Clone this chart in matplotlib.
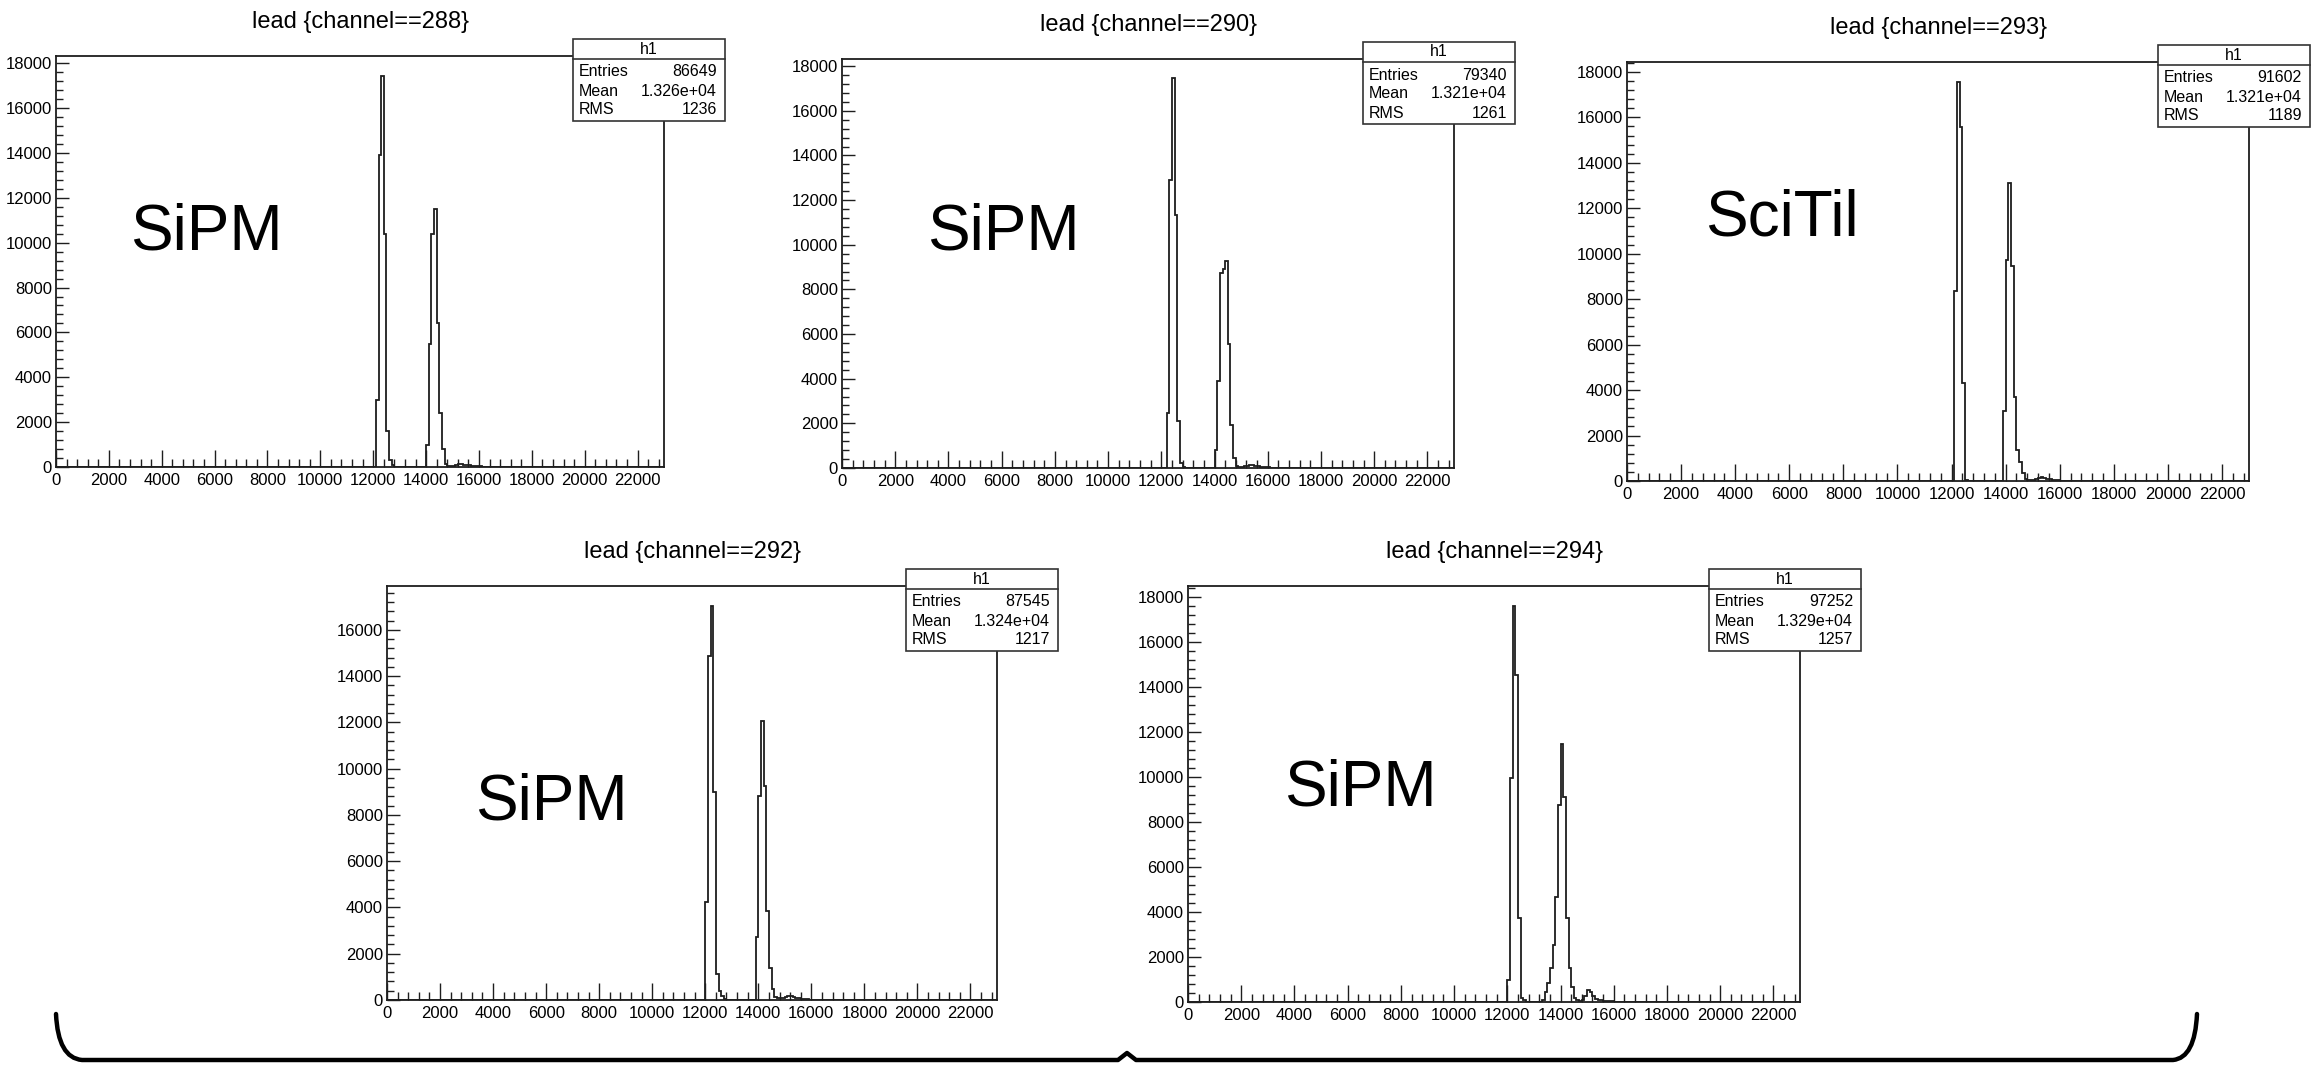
import numpy as np
import matplotlib
matplotlib.use('Agg')
import matplotlib.pyplot as plt
from matplotlib.ticker import MultipleLocator, FixedLocator
from matplotlib.patches import Rectangle, PathPatch
from matplotlib.path import Path
from matplotlib.lines import Line2D

plt.rcParams['font.family'] = ['Liberation Sans', 'DejaVu Sans']

# ---------------- data ----------------
channels = [288, 290, 293, 292, 294]
labels = ['SiPM', 'SiPM', 'SciTil', 'SiPM', 'SiPM']
entries = [86649, 79340, 91602, 87545, 97252]
means = ['1.326e+04', '1.321e+04', '1.321e+04', '1.324e+04', '1.329e+04']
rms_vals = [1236, 1261, 1189, 1217, 1257]

bin_width = 100
x_max = 23000
start_edges = [12100, 12200, 12100, 12000, 12000]

counts_288 = [3000, 13900, 17450, 10400, 1600, 300, 70,
              0, 0, 0, 0, 0, 0, 0, 0, 0, 0, 0, 0,
              1000, 5500, 10400, 11500, 6400, 2400, 800, 150,
              60, 50, 60, 90, 120, 120, 110, 100, 80, 60, 50, 40, 30, 20, 20, 10, 10]
counts_290 = [2460, 12890, 17450, 11350, 2120, 210, 60,
              0, 0, 0, 0, 0, 0, 0, 0, 0, 0, 0,
              800, 3880, 8740, 8900, 9260, 5570, 1930, 450, 100,
              60, 60, 70, 100, 130, 130, 110, 80, 60, 50, 40, 30, 20, 10]
counts_293 = [8380, 17560, 15580, 4330, 60,
              0, 0, 0, 0, 0, 0, 0, 0, 0, 0, 0, 0, 0,
              3070, 9730, 13110, 9450, 3700, 1360, 850, 340, 70,
              60, 50, 60, 80, 130, 160, 150, 110, 80, 60, 50, 40, 20, 10]
counts_292 = [4220, 14880, 17040, 8970, 1120, 400, 190, 40,
              0, 0, 0, 0, 0, 0, 0, 0, 0, 0, 0,
              2710, 8830, 12040, 9260, 3860, 1380, 475, 115,
              80, 70, 90, 150, 190, 170, 120, 90, 70, 50, 40, 30, 20, 10]
counts_294 = [990, 9970, 17600, 14520, 3740, 180, 70,
              0, 0, 0, 0, 0, 0,
              70, 430, 850, 1510, 2550, 4670, 8730, 11450, 9120, 3740, 1510, 670, 180,
              80, 60, 100, 250, 550, 450, 280, 150, 100, 80, 60, 50, 40, 30, 20, 20, 10, 10]
all_counts = [counts_288, counts_290, counts_293, counts_292, counts_294]

x_major = list(range(0, 22001, 2000))

# ---------------- layout (pixels) ----------------
W, H = 2315, 1066
frames = [(56, 664, 56, 467), (842, 1454, 59, 468), (1627, 2249, 62, 481),
          (387, 997, 586, 1000), (1188, 1800, 586, 1002)]
label_pos = [(130, 250), (927, 250), (1705, 235), (475, 820), (1284, 805)]

fig = plt.figure(figsize=(W / 100, H / 100), dpi=100)
fig.patch.set_facecolor('white')


def fx(x):
    return x / W


def fy(y):
    return 1 - y / H


edges = np.arange(0, x_max + bin_width, bin_width)
line_col = '#1e1e1e'

for i, (L, R, T, B) in enumerate(frames):
    ax = fig.add_axes([fx(L), fy(B), (R - L) / W, (B - T) / H])
    full = np.zeros(len(edges) - 1)
    i0 = start_edges[i] // bin_width
    c = np.asarray(all_counts[i], dtype=float)
    full[i0:i0 + len(c)] = c
    ax.stairs(full, edges, color=line_col, lw=1.3)
    ax.set_xlim(0, x_max)
    ax.set_ylim(0, 1.05 * full.max())
    ax.xaxis.set_major_locator(FixedLocator(x_major))
    ax.xaxis.set_minor_locator(MultipleLocator(400))
    ax.yaxis.set_major_locator(MultipleLocator(2000))
    ax.yaxis.set_minor_locator(MultipleLocator(400))
    ax.tick_params(axis='x', which='major', direction='in', length=12, width=1.0,
                   labelsize=12, pad=4, color=line_col)
    ax.tick_params(axis='x', which='minor', direction='in', length=6, width=1.0, color=line_col)
    ax.tick_params(axis='y', which='major', direction='in', length=9, width=1.0,
                   labelsize=12, pad=3, color=line_col)
    ax.tick_params(axis='y', which='minor', direction='in', length=5, width=1.0, color=line_col)
    for s in ax.spines.values():
        s.set_color(line_col)
        s.set_linewidth(1.3)
    ax.set_facecolor('white')

    # title
    fig.text(fx((L + R) / 2), fy(T - 34), f'lead {{channel=={channels[i]}}}',
             ha='center', va='center', fontsize=17)

    # stats box
    bl, br, bt, bb, hd = R - 91, R + 61, T - 17, T + 65, T + 3
    rect = Rectangle((fx(bl), fy(bb)), (br - bl) / W, (bb - bt) / H,
                     transform=fig.transFigure, facecolor='white',
                     edgecolor='#333333', lw=1.2, zorder=5)
    fig.add_artist(rect)
    fig.add_artist(Line2D([fx(bl), fx(br)], [fy(hd), fy(hd)], transform=fig.transFigure,
                          color='#333333', lw=1.2, zorder=6))
    fig.text(fx((bl + br) / 2), fy(T - 7), 'h1', ha='center', va='center', fontsize=11.5, zorder=7)
    rows = [('Entries', str(entries[i])), ('Mean', means[i]), ('RMS', str(rms_vals[i]))]
    for k, (name, val) in enumerate(rows):
        yy = T + 16 + 19 * k
        fig.text(fx(bl + 6), fy(yy), name, ha='left', va='center', fontsize=11.5, zorder=7)
        fig.text(fx(br - 8), fy(yy), val, ha='right', va='center', fontsize=11.5, zorder=7)

    # big label
    lx, ly = label_pos[i]
    fig.text(fx(lx), fy(ly), labels[i], ha='left', va='baseline', fontsize=46)

# ---------------- brace ----------------
verts = [(56, 1014), (58, 1058), (82, 1060),
         (1118, 1060), (1127, 1053), (1136, 1060),
         (2173, 1060), (2195, 1058), (2197, 1014)]
codes = [Path.MOVETO, Path.CURVE3, Path.CURVE3,
         Path.LINETO, Path.LINETO, Path.LINETO,
         Path.LINETO, Path.CURVE3, Path.CURVE3]
path = Path([(fx(x), fy(y)) for x, y in verts], codes)
fig.add_artist(PathPatch(path, transform=fig.transFigure, fill=False,
                         edgecolor='black', lw=3.2, capstyle='round', joinstyle='round'))

fig.savefig('out.png', dpi=100, facecolor='white')
